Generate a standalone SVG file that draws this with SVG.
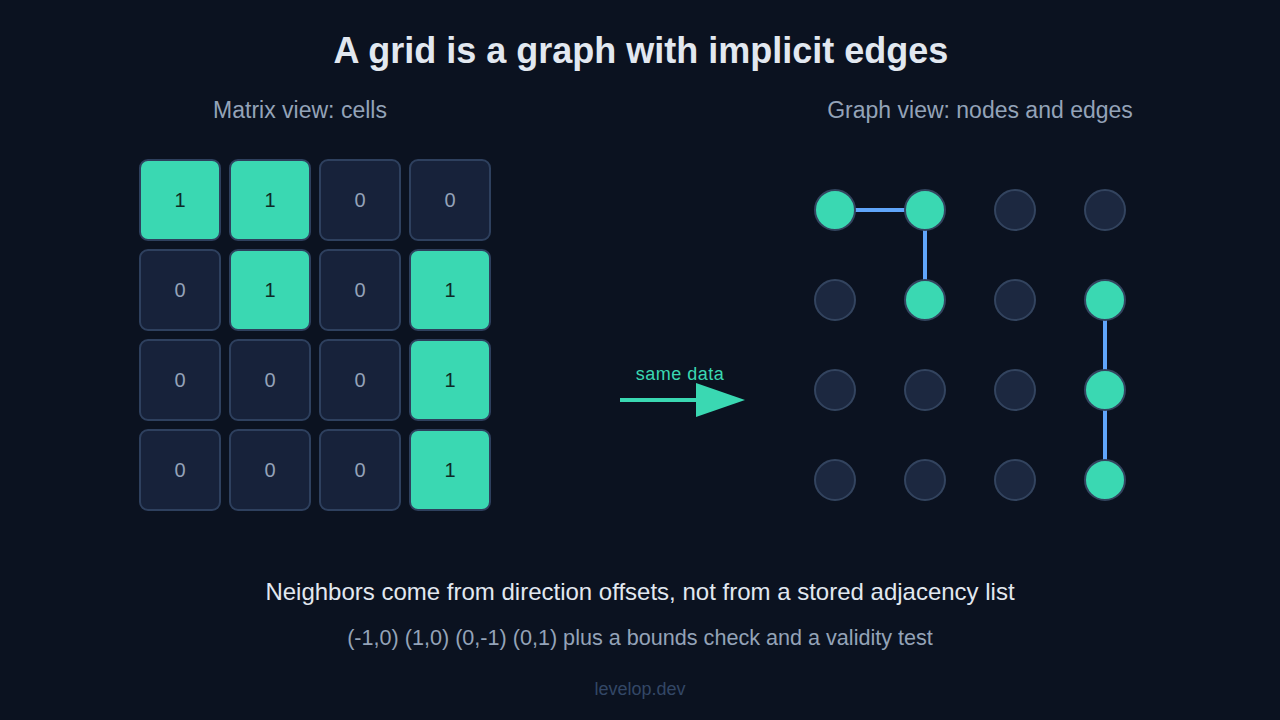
<svg xmlns="http://www.w3.org/2000/svg" width="1280" height="720" viewBox="0 0 1280 720">
<defs>
<style>
text{font-family:"Liberation Sans",Arial,sans-serif;text-anchor:middle}
.cell{stroke:#2e405e;stroke-width:2}
.on{fill:#3ad8b2}
.off{fill:#17223a}
.v1{fill:#0f2a26;font-size:20px}
.v0{fill:#94a3b8;font-size:20px}
.node{stroke:#33445f;stroke-width:2}
.noff{fill:#1c2840}
.edge{stroke:#60a5fa;stroke-width:4}
</style>
</defs>
<rect width="1280" height="720" fill="#0b1220"/>
<text x="641" y="63" font-size="36" font-weight="bold" fill="#e2e8f0">A grid is a graph with implicit edges</text>
<text x="300" y="118" font-size="23" fill="#94a3b8">Matrix view: cells</text>
<text x="980" y="118" font-size="23" fill="#94a3b8">Graph view: nodes and edges</text>

<g id="matrix">
<g id="c00"><rect class="cell on" x="140" y="160" width="80" height="80" rx="8"/><text class="v1" x="180" y="207">1</text></g>
<g id="c01"><rect class="cell on" x="230" y="160" width="80" height="80" rx="8"/><text class="v1" x="270" y="207">1</text></g>
<g id="c02"><rect class="cell off" x="320" y="160" width="80" height="80" rx="8"/><text class="v0" x="360" y="207">0</text></g>
<g id="c03"><rect class="cell off" x="410" y="160" width="80" height="80" rx="8"/><text class="v0" x="450" y="207">0</text></g>
<g id="c10"><rect class="cell off" x="140" y="250" width="80" height="80" rx="8"/><text class="v0" x="180" y="297">0</text></g>
<g id="c11"><rect class="cell on" x="230" y="250" width="80" height="80" rx="8"/><text class="v1" x="270" y="297">1</text></g>
<g id="c12"><rect class="cell off" x="320" y="250" width="80" height="80" rx="8"/><text class="v0" x="360" y="297">0</text></g>
<g id="c13"><rect class="cell on" x="410" y="250" width="80" height="80" rx="8"/><text class="v1" x="450" y="297">1</text></g>
<g id="c20"><rect class="cell off" x="140" y="340" width="80" height="80" rx="8"/><text class="v0" x="180" y="387">0</text></g>
<g id="c21"><rect class="cell off" x="230" y="340" width="80" height="80" rx="8"/><text class="v0" x="270" y="387">0</text></g>
<g id="c22"><rect class="cell off" x="320" y="340" width="80" height="80" rx="8"/><text class="v0" x="360" y="387">0</text></g>
<g id="c23"><rect class="cell on" x="410" y="340" width="80" height="80" rx="8"/><text class="v1" x="450" y="387">1</text></g>
<g id="c30"><rect class="cell off" x="140" y="430" width="80" height="80" rx="8"/><text class="v0" x="180" y="477">0</text></g>
<g id="c31"><rect class="cell off" x="230" y="430" width="80" height="80" rx="8"/><text class="v0" x="270" y="477">0</text></g>
<g id="c32"><rect class="cell off" x="320" y="430" width="80" height="80" rx="8"/><text class="v0" x="360" y="477">0</text></g>
<g id="c33"><rect class="cell on" x="410" y="430" width="80" height="80" rx="8"/><text class="v1" x="450" y="477">1</text></g>
</g>

<g id="arrow">
<text x="680" y="380" font-size="18" letter-spacing="0.5" fill="#3ad8b2">same data</text>
<line x1="620" y1="400" x2="700" y2="400" stroke="#3ad8b2" stroke-width="4"/>
<polygon points="696,383 745,400 696,417" fill="#3ad8b2"/>
</g>

<g id="connectors">
<line class="edge" x1="855" y1="210" x2="905" y2="210"/>
<line class="edge" x1="925" y1="230" x2="925" y2="280"/>
<line class="edge" x1="1105" y1="320" x2="1105" y2="370"/>
<line class="edge" x1="1105" y1="410" x2="1105" y2="460"/>
</g>

<g id="nodes">
<g id="n00"><circle class="node on" cx="835" cy="210" r="20"/></g>
<g id="n01"><circle class="node on" cx="925" cy="210" r="20"/></g>
<g id="n02"><circle class="node noff" cx="1015" cy="210" r="20"/></g>
<g id="n03"><circle class="node noff" cx="1105" cy="210" r="20"/></g>
<g id="n10"><circle class="node noff" cx="835" cy="300" r="20"/></g>
<g id="n11"><circle class="node on" cx="925" cy="300" r="20"/></g>
<g id="n12"><circle class="node noff" cx="1015" cy="300" r="20"/></g>
<g id="n13"><circle class="node on" cx="1105" cy="300" r="20"/></g>
<g id="n20"><circle class="node noff" cx="835" cy="390" r="20"/></g>
<g id="n21"><circle class="node noff" cx="925" cy="390" r="20"/></g>
<g id="n22"><circle class="node noff" cx="1015" cy="390" r="20"/></g>
<g id="n23"><circle class="node on" cx="1105" cy="390" r="20"/></g>
<g id="n30"><circle class="node noff" cx="835" cy="480" r="20"/></g>
<g id="n31"><circle class="node noff" cx="925" cy="480" r="20"/></g>
<g id="n32"><circle class="node noff" cx="1015" cy="480" r="20"/></g>
<g id="n33"><circle class="node on" cx="1105" cy="480" r="20"/></g>
</g>

<text x="640" y="600" font-size="24" fill="#e2e8f0">Neighbors come from direction offsets, not from a stored adjacency list</text>
<text x="640" y="645" font-size="21.6" fill="#94a3b8">(-1,0) (1,0) (0,-1) (0,1) plus a bounds check and a validity test</text>
<text x="640" y="695" font-size="18" fill="#334766">levelop.dev</text>
</svg>
